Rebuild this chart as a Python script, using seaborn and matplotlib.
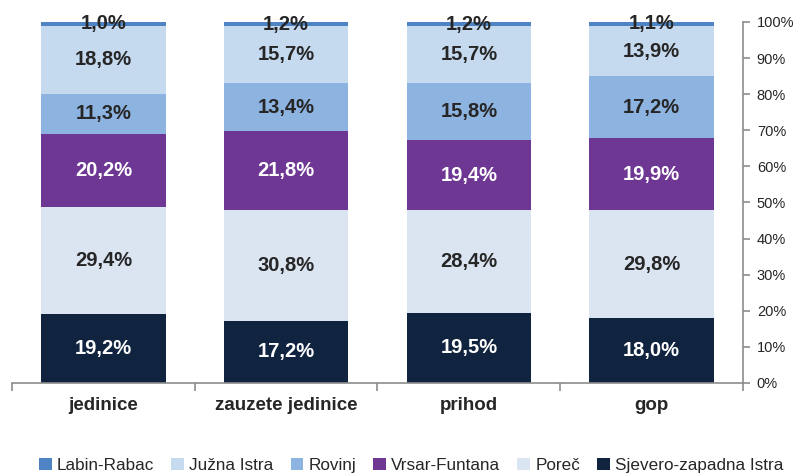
import numpy as np
import pandas as pd
import matplotlib
matplotlib.use("Agg")
import matplotlib.pyplot as plt
from matplotlib.patches import Patch
from matplotlib.ticker import FixedLocator, PercentFormatter
import seaborn as sns

categories = ["jedinice", "zauzete jedinice", "prihod", "gop"]

# regions, from the bottom of each stack to the top
regions = ["Sjevero-zapadna Istra", "Poreč", "Vrsar-Funtana", "Rovinj", "Južna Istra", "Labin-Rabac"]
sjevero_zapadna_istra = [19.2, 17.2, 19.5, 18.0]
porec = [29.4, 30.8, 28.4, 29.8]
vrsar_funtana = [20.2, 21.8, 19.4, 19.9]
rovinj = [11.3, 13.4, 15.8, 17.2]
juzna_istra = [18.8, 15.7, 15.7, 13.9]
labin_rabac = [1.0, 1.2, 1.2, 1.1]

colors = ["#10243f", "#dbe5f1", "#6d3793", "#8db3e0", "#c5d9ef", "#4f84c4"]
label_colors = ["white", "#262626", "white", "#262626", "#262626", "#262626"]

series = [sjevero_zapadna_istra, porec, vrsar_funtana, rovinj, juzna_istra, labin_rabac]

sns.set_theme(style="white")
plt.rcParams["font.family"] = ["Liberation Sans", "DejaVu Sans"]

fig = plt.figure(figsize=(7.97, 4.75), dpi=100)
ax = fig.add_axes([0.0151, 0.1937, 0.9171, 0.76])

vals = np.array(series)
# stack totals scaled to 100% per category
shares = vals / vals.sum(axis=0) * 100
tops = np.cumsum(shares, axis=0)
bottoms = tops - shares

# draw tallest cumulative bars first so lower layers sit on top
for i in range(len(regions) - 1, -1, -1):
    df = pd.DataFrame({"kategorija": categories, "vrijednost": tops[i]})
    sns.barplot(data=df, x="kategorija", y="vrijednost", color=colors[i],
                width=0.68, linewidth=0, saturation=1, ax=ax, errorbar=None)

for i in range(len(regions)):
    for j in range(len(categories)):
        y = bottoms[i, j] + shares[i, j] / 2
        ax.text(j, y, f"{series[i][j]:.1f}%".replace(".", ","),
                ha="center", va="center", fontsize=14.5, fontweight="bold",
                color=label_colors[i])

ax.set_xlim(-0.5, len(categories) - 0.5)
ax.set_ylim(0, 100)
ax.set_xlabel("")
ax.set_ylabel("")

spine_color = "#8c8c8c"
for s in ["left", "top"]:
    ax.spines[s].set_visible(False)
for s in ["right", "bottom"]:
    ax.spines[s].set_color(spine_color)
    ax.spines[s].set_linewidth(1.2)

ax.yaxis.tick_right()
ax.yaxis.set_major_locator(FixedLocator(np.arange(0, 101, 10)))
ax.yaxis.set_major_formatter(PercentFormatter(decimals=0))
ax.tick_params(axis="y", which="major", right=True, length=5, width=1.2,
               color=spine_color, labelsize=10.5, labelcolor="#262626", pad=5)

ax.set_xticks(range(len(categories)))
ax.set_xticklabels(categories, fontsize=13.5, fontweight="bold", color="#262626")
ax.tick_params(axis="x", which="major", length=0, pad=10)
ax.set_xticks(np.arange(-0.5, len(categories), 1.0), minor=True)
ax.tick_params(axis="x", which="minor", bottom=True, length=6, width=1.2,
               color=spine_color)

handles = [Patch(facecolor=colors[i], edgecolor="none", label=regions[i])
           for i in range(len(regions) - 1, -1, -1)]
fig.legend(handles=handles, loc="center", bbox_to_anchor=(0.516, 0.02), ncol=6,
           frameon=False, fontsize=12.3, handlelength=0.75, handleheight=0.75,
           handletextpad=0.3, columnspacing=1.0, labelcolor="#262626")

fig.savefig("out.png", dpi=100)
